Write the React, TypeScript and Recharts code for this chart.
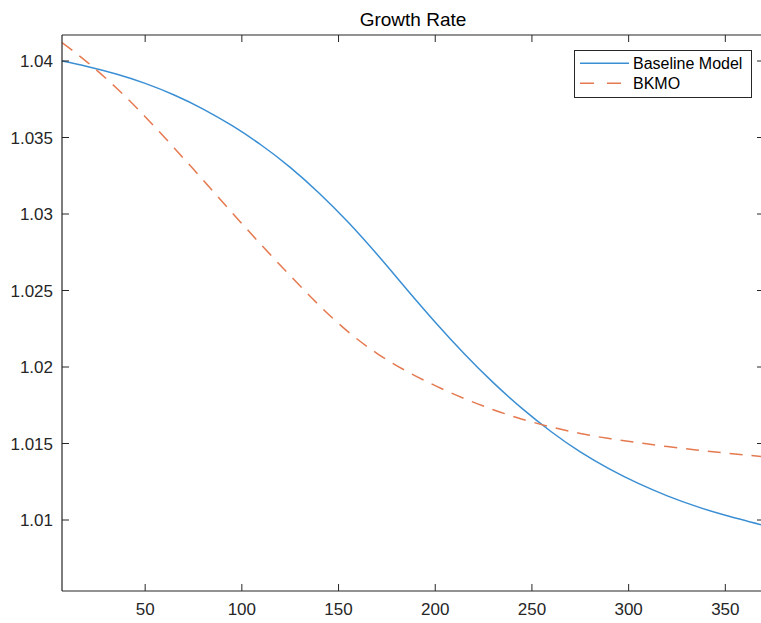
import React from 'react';
import { LineChart, Line, XAxis, YAxis, Legend } from 'recharts';

// sample positions along the horizon
const steps = [7, 20, 35, 50, 65, 80, 95, 110, 125, 140, 155, 170, 185, 200, 215, 230, 245, 260, 275, 290, 305, 320, 335, 350, 370];

const baselineModel = [
  1.04, 1.03964, 1.03915, 1.03854, 1.03778, 1.03686, 1.03577, 1.03451, 1.03305, 1.03136,
  1.02946, 1.02735, 1.02512, 1.02293, 1.02087, 1.01898, 1.01728, 1.01577, 1.01445, 1.01334,
  1.01239, 1.01158, 1.01089, 1.01031, 1.00964,
];

const bkmo = [
  1.0412, 1.03993, 1.03825, 1.03636, 1.03432, 1.03221, 1.03008, 1.02799, 1.02597, 1.02403,
  1.0223, 1.02088, 1.01974, 1.01878, 1.01794, 1.01721, 1.01659, 1.01608, 1.01566, 1.01532,
  1.01505, 1.0148, 1.01458, 1.01438, 1.01413,
];

const xTicks = [50, 100, 150, 200, 250, 300, 350];
const yTicks = [1.01, 1.015, 1.02, 1.025, 1.03, 1.035, 1.04];

const data = steps.map((t, i) => ({ t, baseline: baselineModel[i], bkmo: bkmo[i] }));

const AXIS = '#262626';
const BLUE = '#3a8fd4';
const ORANGE = '#e5794f';
const FONT = '"Liberation Sans", Arial, Helvetica, sans-serif';
const TICK_LEN = 7;

// ticks point into the plot box, labels sit outside
const BottomTick = ({ x, y, payload }: any) => (
  <g>
    <line x1={x} y1={y} x2={x} y2={y - TICK_LEN} stroke={AXIS} strokeWidth={1} />
    <text x={x} y={y + 24} textAnchor="middle" fill={AXIS} fontSize={17} fontFamily={FONT}>
      {payload.value}
    </text>
  </g>
);

const LeftTick = ({ x, y, payload }: any) => (
  <g>
    <line x1={x} y1={y} x2={x + TICK_LEN} y2={y} stroke={AXIS} strokeWidth={1} />
    <text x={x - 9} y={y + 6} textAnchor="end" fill={AXIS} fontSize={17} fontFamily={FONT}>
      {String(payload.value)}
    </text>
  </g>
);

const TopTick = ({ x, y }: any) => (
  <line x1={x} y1={y} x2={x} y2={y + TICK_LEN} stroke={AXIS} strokeWidth={1} />
);

const RightTick = ({ x, y }: any) => (
  <line x1={x} y1={y} x2={x - TICK_LEN} y2={y} stroke={AXIS} strokeWidth={1} />
);

const LegendBox = () => (
  <svg width={178} height={48} style={{ display: 'block' }}>
    <rect x={0.5} y={0.5} width={177} height={47} fill="#fff" stroke={AXIS} strokeWidth={1} />
    <line x1={6} y1={13.3} x2={55} y2={13.3} stroke={BLUE} strokeWidth={1.5} />
    <text x={59} y={19.3} fill="#000" fontSize={16} fontFamily={FONT}>Baseline Model</text>
    <line x1={6} y1={33.3} x2={48} y2={33.3} stroke={ORANGE} strokeWidth={1.5} strokeDasharray="14 13" />
    <text x={59} y={39.3} fill="#000" fontSize={16} fontFamily={FONT}>BKMO</text>
  </svg>
);

export default function App() {
  return (
    <div style={{ position: 'absolute', left: 0, top: 0, width: 761, height: 623, overflow: 'hidden', background: '#fff' }}>
      <div
        style={{
          position: 'absolute',
          left: 62,
          width: 702,
          top: 9,
          textAlign: 'center',
          fontFamily: FONT,
          fontSize: 19,
          color: '#000',
          lineHeight: '22px',
        }}
      >
        Growth Rate
      </div>
      <LineChart width={766} height={623} data={data} margin={{ top: 0, right: 0, bottom: 0, left: 0 }}>
        <XAxis
          xAxisId="bottom"
          dataKey="t"
          type="number"
          domain={[7, 370]}
          ticks={xTicks}
          allowDataOverflow
          height={32}
          tickSize={0}
          tickMargin={0}
          tickLine={false}
          tick={<BottomTick />}
          axisLine={{ stroke: AXIS, strokeWidth: 1.2 }}
        />
        <XAxis
          xAxisId="top"
          orientation="top"
          dataKey="t"
          type="number"
          domain={[7, 370]}
          ticks={xTicks}
          allowDataOverflow
          height={35}
          tickSize={0}
          tickMargin={0}
          tickLine={false}
          tick={<TopTick />}
          axisLine={{ stroke: AXIS, strokeWidth: 1.2 }}
        />
        <YAxis
          yAxisId="left"
          type="number"
          domain={[1.00536, 1.0417]}
          ticks={yTicks}
          allowDataOverflow
          width={62}
          tickSize={0}
          tickMargin={0}
          tickLine={false}
          tick={<LeftTick />}
          axisLine={{ stroke: AXIS, strokeWidth: 1.2 }}
        />
        <YAxis
          yAxisId="right"
          orientation="right"
          type="number"
          domain={[1.00536, 1.0417]}
          ticks={yTicks}
          allowDataOverflow
          width={2}
          tickSize={0}
          tickMargin={0}
          tickLine={false}
          tick={<RightTick />}
          axisLine={{ stroke: AXIS, strokeWidth: 1.2 }}
        />
        <Legend
          layout="vertical"
          align="center"
          verticalAlign="middle"
          content={() => <LegendBox />}
          wrapperStyle={{ position: 'absolute', left: 574, top: 50, width: 178, height: 48 }}
        />
        <Line
          xAxisId="bottom"
          yAxisId="left"
          type="natural"
          dataKey="baseline"
          name="Baseline Model"
          stroke={BLUE}
          strokeWidth={1.5}
          dot={false}
          isAnimationActive={false}
        />
        <Line
          xAxisId="bottom"
          yAxisId="left"
          type="natural"
          dataKey="bkmo"
          name="BKMO"
          stroke={ORANGE}
          strokeWidth={1.5}
          strokeDasharray="13 9"
          dot={false}
          isAnimationActive={false}
        />
      </LineChart>
    </div>
  );
}
